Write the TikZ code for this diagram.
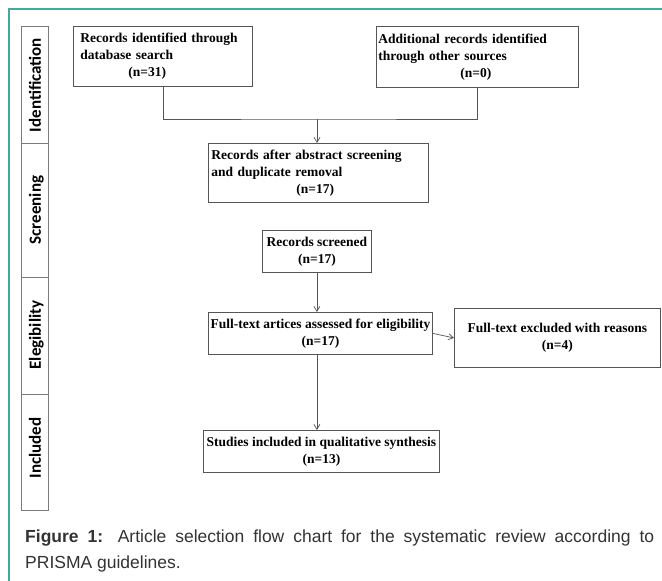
\documentclass[tikz,border=0pt]{standalone}
\usepackage{fontspec}
\setmainfont{Liberation Serif}
\setsansfont{Liberation Sans}
\newfontfamily\phasefont{Carlito}
\usepackage{tikz}
\usetikzlibrary{positioning, arrows.meta}
\definecolor{colorFrame}{HTML}{3AAE96}
\definecolor{colorBox}{HTML}{555555}
\definecolor{colorBar}{HTML}{7A7A7A}
\definecolor{colorCap}{HTML}{333333}
\tikzset{
  box/.style={draw=colorBox, line width=0.8pt, inner sep=0pt, anchor=north west,
    font=\fontsize{13.5}{17}\selectfont\bfseries},
  phase/.style={rotate=90, anchor=base, font=\fontsize{17}{17}\selectfont\phasefont\bfseries},
  link/.style={draw=colorBox, line width=0.7pt, >={Straight Barb[length=5pt, width=6pt]}}
}

\begin{document}
\begin{tikzpicture}[x=1pt, y=-1pt]
        \useasboundingbox (0,0) rectangle (662,581);
        \draw[colorFrame, line width=1.2pt] (9,581) -- (9,9) -- (662,9);

        % phase bar
        \begin{scope}[colorBar, line width=0.9pt]
            \draw (21,26) rectangle (48,510);
            \foreach \y in {143,277,394} \draw (21,\y) -- (48,\y);
        \end{scope}
        \node[phase] (identification) at (41,85) {Identification};
        \node[phase] (screening) at (41,210) {Screening};
        \node[phase] (elegibility) at (41,335) {Elegibility};
        \node[phase] (included) at (41,448) {Included};

        % boxes
        \node[box, text width=165pt, inner xsep=7pt, minimum height=60pt, align=left] (database) at (73,26)
            {Records identified through\\database search\\\hspace*{48pt}(n=31)};
        \node[box, text width=198pt, inner xsep=2pt, minimum height=61pt, align=left] (other) at (376,26)
            {Additional records identified\\through other sources\\\hspace*{82pt}(n=0)};
        \node[box, text width=214pt, inner xsep=3pt, minimum height=59pt, align=left] (merged) at (208,143)
            {Records after abstract screening\\and duplicate removal\\\hspace*{85pt}(n=17)};
        \node[box, minimum width=109pt, minimum height=42pt, align=center] (screened) at (262,230)
            {Records screened\\(n=17)};
        \node[box, minimum width=224pt, minimum height=42pt, align=center] (fulltext) at (208,312)
            {Full-text artices assessed for eligibility\\(n=17)};
        \node[box, minimum width=206pt, minimum height=59pt, align=center] (excluded) at (454,308)
            {Full-text excluded with reasons\\(n=4)};
        \node[box, minimum width=236pt, minimum height=42pt, align=center] (studies) at (203,430)
            {Studies included in qualitative synthesis\\(n=13)};

        % connectors
        \coordinate (join) at (317,119);
        \draw[link] (database.south) |- (join) -| (other.south);
        \draw[link, ->] (join) -- (join |- merged.north);
        \draw[link, ->] (screened.south) -- (screened.south |- fulltext.north);
        \draw[link, ->] (fulltext.east) -- (excluded.west);
        \draw[link, ->] (fulltext.south -| screened.south) -- (screened.south |- studies.north);

        % caption
        \node[anchor=north west, text width=629pt, align=justify, inner sep=0pt, text=colorCap,
            font=\sffamily\fontsize{17.5}{26}\selectfont] (caption) at (25,530)
            {\textbf{Figure 1:} Article selection flow chart for the systematic review according to\linebreak PRISMA guidelines.};
    \end{tikzpicture}
\end{document}
